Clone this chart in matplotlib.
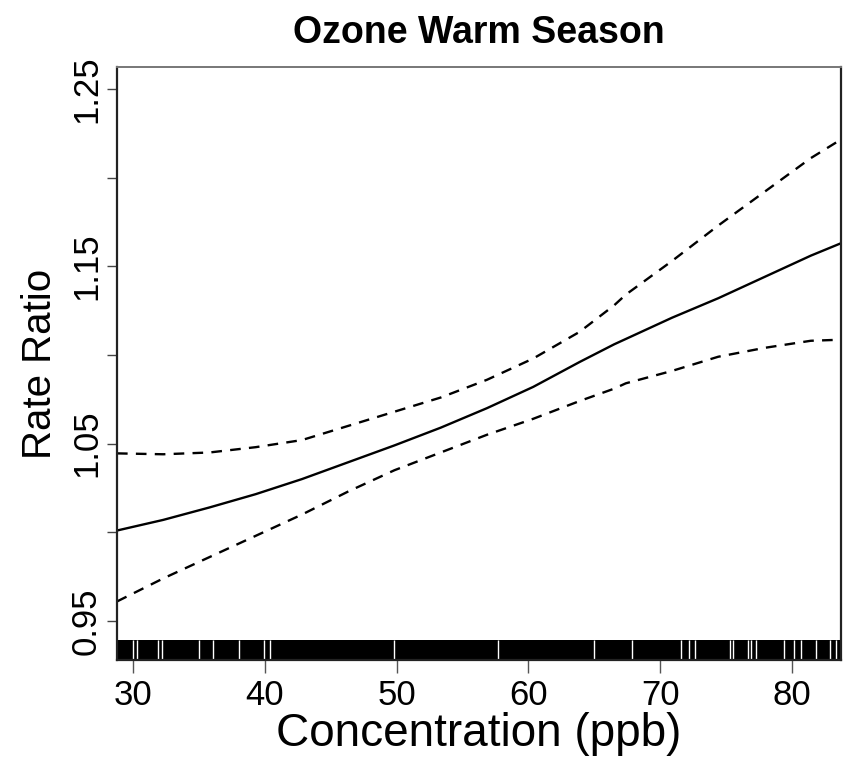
import matplotlib
matplotlib.use("Agg")
import matplotlib.pyplot as plt
import matplotlib.transforms as mtransforms

# concentration (ppb) at which the curves were read
conc = [28.79, 32.30, 35.80, 39.31, 42.82, 46.33, 49.84, 53.35, 56.86, 60.37,
        63.88, 66.51, 67.39, 70.90, 74.41, 77.92, 81.43, 83.72]

# fitted rate ratio and the upper / lower confidence bands
rr_fit = [1.001, 1.007, 1.014, 1.0215, 1.030, 1.0395, 1.049, 1.059, 1.070, 1.082,
          1.096, 1.106, 1.109, 1.121, 1.132, 1.144, 1.156, 1.163]
rr_upper = [1.0445, 1.044, 1.045, 1.048, 1.052, 1.060, 1.068, 1.076, 1.086, 1.098,
            1.113, 1.128, 1.134, 1.153, 1.173, 1.192, 1.211, 1.2215]
rr_lower = [0.961, 0.974, 0.986, 0.998, 1.010, 1.023, 1.035, 1.045, 1.055, 1.064,
            1.074, 1.081, 1.084, 1.091, 1.099, 1.104, 1.108, 1.1086]

# rug: observations cover the whole range, only a few gaps are visible
rug_lo, rug_hi = 28.85, 83.7
rug_gaps = [29.97, 30.29, 31.88, 32.22, 35.01, 36.09, 38.08, 39.96, 40.43,
            49.82, 57.66, 64.96, 67.85, 71.58, 72.18, 72.65, 75.26, 75.54,
            76.63, 76.89, 77.25, 79.37, 80.18, 80.68, 81.85, 82.85, 83.32]

x_ticks = [30, 40, 50, 60, 70, 80]
y_ticks = [0.95, 1.00, 1.05, 1.10, 1.15, 1.20, 1.25]
y_labels = ["0.95", "", "1.05", "", "1.15", "", "1.25"]

plt.rcParams["font.family"] = ["Liberation Sans", "DejaVu Sans"]

fig = plt.figure(figsize=(8.46, 7.66), dpi=100)
ax = fig.add_axes([0.1383, 0.1384, 0.8558, 0.7742])

ax.plot(conc, rr_fit, color="black", lw=1.7, solid_capstyle="butt")
ax.plot(conc, rr_upper, color="black", lw=1.7, dashes=(4.5, 3.5))
ax.plot(conc, rr_lower, color="black", lw=1.7, dashes=(4.5, 3.5))

# rug along the bottom
trans = mtransforms.blended_transform_factory(ax.transData, ax.transAxes)
ax.fill_between([rug_lo, rug_hi], 0, 0.033, color="black", lw=0, transform=trans)
ax.vlines(rug_gaps, 0, 0.033, color="white", lw=1.0, transform=trans)

ax.set_xlim(28.79, 83.72)
ax.set_ylim(0.928, 1.2624)

ax.set_xticks(x_ticks)
ax.set_yticks(y_ticks)
ax.set_yticklabels(y_labels, rotation=90, va="center")
ax.tick_params(axis="x", length=9, width=1.0, color="#555555", labelsize=25, pad=5)
ax.tick_params(axis="y", length=7, width=1.0, color="#444444", labelsize=25, pad=3)

for side in ["left", "bottom", "right"]:
    ax.spines[side].set_color("#222222")
    ax.spines[side].set_linewidth(1.6)
ax.spines["top"].set_color("#777777")
ax.spines["top"].set_linewidth(1.4)

ax.set_title("Ozone Warm Season", fontsize=27, fontweight="bold", pad=17)
ax.set_xlabel("Concentration (ppb)", fontsize=33, labelpad=0)
ax.set_ylabel("Rate Ratio", fontsize=29, labelpad=8)

fig.savefig("out.png", dpi=100)
